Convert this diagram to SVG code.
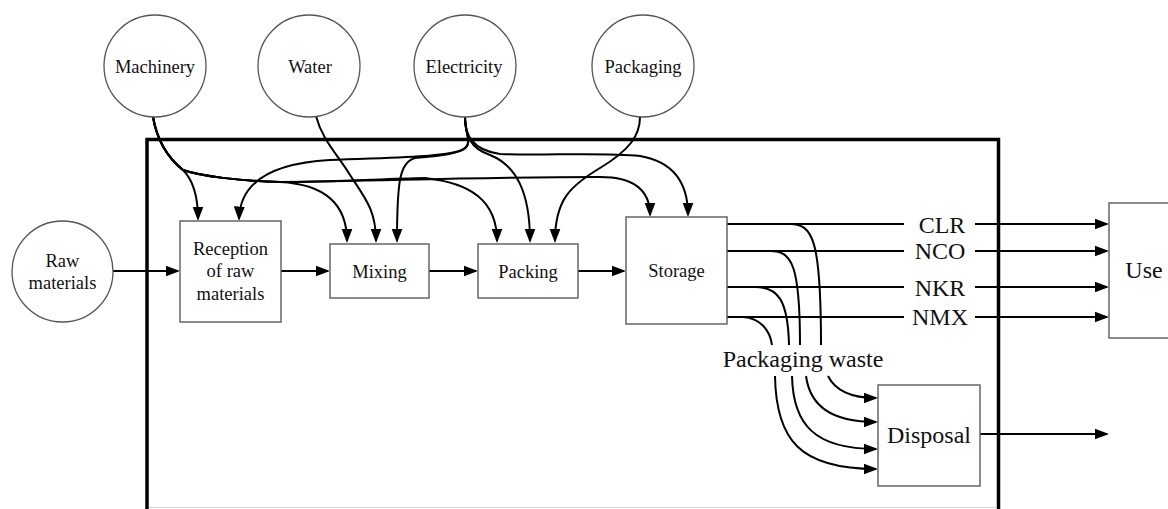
<svg xmlns="http://www.w3.org/2000/svg" width="1168" height="509" viewBox="0 0 1168 509">
<style>
text{font-family:"Liberation Serif","Times New Roman",serif;fill:#111;text-anchor:middle}
.s{font-size:18.5px}
.b{font-size:24px}
.node{fill:#fff;stroke:#666;stroke-width:1.5}
.circ{fill:#fff;stroke:#555;stroke-width:1.3}
.e{fill:none;stroke:#000;stroke-width:2}
.a{marker-end:url(#ah)}
</style>
<defs>
<marker id="ah" markerUnits="userSpaceOnUse" markerWidth="15" markerHeight="12" viewBox="0 0 15 12" refX="12.5" refY="6" orient="auto">
<path d="M0,0.5 L14.5,6 L0,11.5 z" fill="#000"/>
</marker>
</defs>
<rect x="0" y="0" width="1168" height="509" fill="#fff"/>
<g id="boundary">
<path d="M147,520 L147,139.5 L998.5,139.5 L998.5,520" fill="none" stroke="#000" stroke-width="3.5"/>
<line x1="149" y1="507.5" x2="997" y2="507.5" stroke="#d4d4d4" stroke-width="1"/>
</g>
<g id="connectors">
<path class="e a" d="M153,117 C157,140 168,158 183,170 C193,180 198,195 198,219"/>
<path class="e a" d="M153,117 C157,140 168,158 183,170 C200,176 240,181 280,182 C320,184 347,200 347,241"/>
<path class="e a" d="M153,117 C157,140 168,158 183,170 C200,176 240,181 280,182 C330,182 380,179 425,178 C470,183 497,200 497,241"/>
<path class="e a" d="M153,117 C157,140 168,158 183,170 C200,176 240,181 280,182 C380,181 480,177 600,177 C640,177 650,195 650,215"/>
<path class="e a" d="M316,116 C322,140 338,155 350,175 C365,198 376,210 376,241"/>
<path class="e a" d="M465,117 C465,135 474,144 462,150 C445,157 400,157 330,160 C275,163 240,180 239,219"/>
<path class="e a" d="M465,117 C465,135 474,144 462,150 C450,156 430,156 415,158 C400,162 397,180 397,241"/>
<path class="e a" d="M465,117 C465,135 470,148 490,155 C515,165 530,190 530,241"/>
<path class="e a" d="M465,117 C465,135 472,150 500,154 C540,156 600,152 640,156 C675,162 688,185 688,215"/>
<path class="e a" d="M640,117 C640,135 630,150 600,168 C570,186 555,200 555,241"/>
<path class="e a" d="M113,271 L178,271"/>
<path class="e a" d="M281,271 L328,271"/>
<path class="e a" d="M429,271 L476,271"/>
<path class="e a" d="M578,271 L624,271"/>
<path class="e" d="M727,224 L904,224"/>
<path class="e a" d="M975,224 L1107,224"/>
<path class="e" d="M727,251 L904,251"/>
<path class="e a" d="M975,251 L1107,251"/>
<path class="e" d="M727,287 L904,287"/>
<path class="e a" d="M975,287 L1107,287"/>
<path class="e" d="M727,317 L904,317"/>
<path class="e a" d="M975,317 L1107,317"/>
<path class="e" d="M743,317 C760,318 770,330 772,345"/>
<path class="e" d="M755,287 C778,287 788,300 789,345"/>
<path class="e" d="M770,251 C792,251 800,265 800,345"/>
<path class="e" d="M790,224 C813,224 821,240 821,345"/>
<path class="e a" d="M775,376 C776,440 800,469 876,469"/>
<path class="e a" d="M792,376 C793,425 815,449 876,449"/>
<path class="e a" d="M806,376 C810,405 830,422 876,422"/>
<path class="e a" d="M828,376 C835,390 850,398 876,398"/>
<path class="e a" d="M980,434 L1107,434"/>
</g>
<g id="labels">
<text class="b" x="942" y="233">CLR</text>
<text class="b" x="940" y="259">NCO</text>
<text class="b" x="940" y="296">NKR</text>
<text class="b" x="940" y="325">NMX</text>
<text class="b" x="803" y="367">Packaging waste</text>
</g>
<g id="machinery"><circle class="circ" cx="155" cy="66" r="51"/><text class="s" x="155" y="72.5">Machinery</text></g>
<g id="water"><circle class="circ" cx="309" cy="66" r="51"/><text class="s" x="310" y="72.5">Water</text></g>
<g id="electricity"><circle class="circ" cx="465" cy="66" r="51"/><text class="s" x="464" y="72.5">Electricity</text></g>
<g id="packaging"><circle class="circ" cx="643" cy="66" r="51"/><text class="s" x="643" y="72.5">Packaging</text></g>
<g id="raw-materials"><circle class="circ" cx="62.5" cy="271.5" r="50.5"/><text class="s" x="62.5" y="266.5">Raw</text><text class="s" x="62.5" y="289">materials</text></g>
<g id="reception"><rect class="node" x="180" y="221" width="101" height="101"/><text class="s" x="230.5" y="254.5">Reception</text><text class="s" x="230.5" y="277">of raw</text><text class="s" x="230.5" y="299.5">materials</text></g>
<g id="mixing"><rect class="node" x="330" y="244" width="99" height="54"/><text class="s" x="379.5" y="277.5">Mixing</text></g>
<g id="packing"><rect class="node" x="478" y="244" width="100" height="54"/><text class="s" x="528" y="277.5">Packing</text></g>
<g id="storage"><rect class="node" x="626" y="217" width="101" height="107"/><text class="s" x="676.5" y="277">Storage</text></g>
<g id="disposal"><rect class="node" x="878" y="385" width="102" height="101"/><text class="b" x="929" y="443">Disposal</text></g>
<g id="use"><rect class="node" x="1109" y="203" width="80" height="135"/><text class="b" x="1144" y="278">Use</text></g>
</svg>
